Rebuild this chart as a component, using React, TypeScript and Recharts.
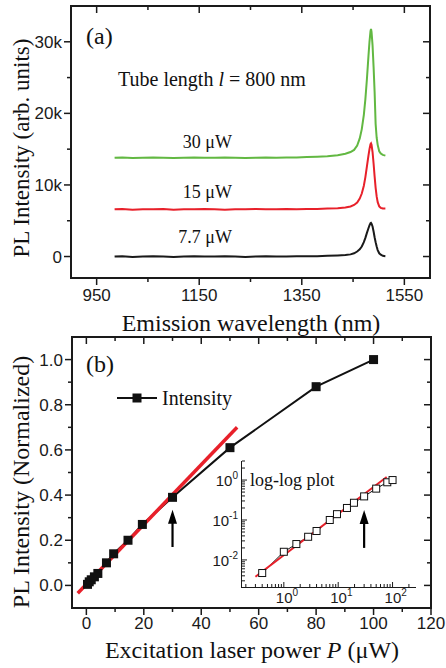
import React from 'react';
import { LineChart, Line, XAxis, YAxis, ReferenceLine } from 'recharts';

// (a) PL spectra, intensity in k (thousands of arb. units)
const wavelength = [
  985, 1000, 1020, 1040, 1060, 1080, 1100, 1120, 1140, 1160, 1180, 1200, 1220, 1240, 1260, 1280, 1300, 1320, 1340, 1360, 1380, 1400,
  1420, 1435, 1445, 1452, 1458, 1463, 1467, 1471, 1474, 1477,
  1480, 1482, 1484, 1485, 1486, 1488, 1490, 1492, 1494, 1496,
  1498, 1501, 1504, 1508, 1513,
];
const green30uW = [
  13.8, 13.85, 13.75, 13.8, 13.85, 13.8, 13.75, 13.8, 13.85, 13.8, 13.8, 13.85, 13.8, 13.75, 13.8, 13.85, 13.8, 13.85, 13.85, 13.9, 13.95, 14.0,
  14.15, 14.35, 14.6, 14.9, 15.5, 16.5, 17.8, 19.8, 22.0, 24.8,
  28.0, 30.0, 31.5, 31.8, 31.4, 29.5, 26.5, 23.0, 18.5, 16.6,
  15.6, 14.7, 14.4, 14.2, 14.1,
];
const red15uW = [
  6.6, 6.65, 6.55, 6.6, 6.6, 6.65, 6.55, 6.6, 6.6, 6.65, 6.6, 6.55, 6.6, 6.6, 6.65, 6.6, 6.6, 6.65, 6.6, 6.65, 6.65, 6.7,
  6.75, 6.85, 7.0, 7.2, 7.55, 8.1, 8.8, 9.9, 11.1, 12.6,
  14.1, 15.0, 15.7, 15.8, 15.6, 14.6, 13.0, 11.2, 9.6, 8.4,
  7.6, 7.0, 6.8, 6.7, 6.7,
];
const black7p7uW = [
  0.0, 0.05, -0.05, 0.0, 0.05, 0.0, -0.05, 0.0, 0.05, 0.0, 0.0, 0.05, 0.0, -0.05, 0.0, 0.05, 0.0, 0.0, 0.05, 0.05, 0.05, 0.1,
  0.15, 0.2, 0.3, 0.45, 0.7, 1.0, 1.4, 2.0, 2.6, 3.3,
  3.95, 4.35, 4.65, 4.7, 4.6, 4.2, 3.5, 2.7, 2.0, 1.4,
  0.9, 0.45, 0.25, 0.1, 0.05,
];

const aXTicks = [950, 1050, 1150, 1250, 1350, 1450, 1550];
const aXMajor = [950, 1150, 1350, 1550];
const aYTicks = [0, 5, 10, 15, 20, 25, 30];
const aYMajor = [0, 10, 20, 30];

// (b) normalized PL intensity vs excitation power (uW)
const power = [0.4, 1, 1.7, 2.8, 4, 7, 9.5, 14.5, 19.5, 30, 50, 80, 100];
const intensity = [0.0047, 0.016, 0.025, 0.038, 0.053, 0.1, 0.14, 0.2, 0.27, 0.39, 0.61, 0.88, 1.0];
const fitLinP = [-3, 52.5];
const fitLinI = [-0.035, 0.7];
const fitLogP = [0.3, 78];
const fitLogI = [0.0038, 1.19];
const arrowP = 30;
const arrowLinI = [0.17, 0.335];
const arrowLogI = [0.02, 0.178];

const bXTicks = [0, 10, 20, 30, 40, 50, 60, 70, 80, 90, 100, 110, 120];
const bXMajor = [0, 20, 40, 60, 80, 100, 120];
const bYTicks = [0, 0.1, 0.2, 0.3, 0.4, 0.5, 0.6, 0.7, 0.8, 0.9, 1.0];
const bYMajor = [0, 0.2, 0.4, 0.6, 0.8, 1.0];

const logXTicks = [0.2, 0.3, 0.4, 0.5, 0.6, 0.7, 0.8, 0.9, 1, 2, 3, 4, 5, 6, 7, 8, 9, 10, 20, 30, 40, 50, 60, 70, 80, 90, 100, 200];
const logXMajor = [1, 10, 100];
const logYTicks = [0.003, 0.004, 0.005, 0.006, 0.007, 0.008, 0.009, 0.01, 0.02, 0.03, 0.04, 0.05, 0.06, 0.07, 0.08, 0.09, 0.1, 0.2, 0.3, 0.4, 0.5, 0.6, 0.7, 0.8, 0.9, 1, 2, 3];
const logYMajor = [0.01, 0.1, 1];

const spectra = wavelength.map((w, i) => ({ w, g: green30uW[i], r: red15uW[i], k: black7p7uW[i] }));
const points = power.map((p, i) => ({ x: p, y: intensity[i] }));
const fitLin = fitLinP.map((p, i) => ({ x: p, y: fitLinI[i] }));
const fitLog = fitLogP.map((p, i) => ({ x: p, y: fitLogI[i] }));

// layout (page px)
const W = 446;
const A = { top: 0, h: 330, l: 71, t: 6, r: 430, b: 278 };
const B = { top: 330, h: 338, l: 72, t: 337, r: 431, b: 608 };
const I = { left: 196, top: 450, w: 236, h: 160, l: 242, t: 461, r: 416, b: 587 };

const INK = '#1a1a1a';
const SANS = "'Liberation Sans', Arial, sans-serif";
const SERIF = "'Liberation Serif', 'Times New Roman', serif";

const isIn = (arr: number[], v: number) => arr.some((m) => Math.abs(m - v) < 1e-9);

// tick mark + label drawn by hand; the mirrored inward tick on the opposite side of the box too
function bottomTick(majors: number[], gap: number, topY: number) {
  return (props: any) => {
    const { x, y, payload } = props;
    const v = payload.value as number;
    const major = isIn(majors, v);
    const len = major ? 7 : 4;
    return (
      <g>
        <line x1={x} y1={y} x2={x} y2={y + len} stroke={INK} strokeWidth={1.5} />
        <line x1={x} y1={topY} x2={x} y2={topY + len} stroke={INK} strokeWidth={1.5} />
        {major && (
          <text x={x} y={y + gap} textAnchor="middle" fontFamily={SANS} fontSize={17} fill={INK}>{String(v)}</text>
        )}
      </g>
    );
  };
}

function leftTick(majors: number[], fmt: (v: number) => string, rightX: number) {
  return (props: any) => {
    const { x, y, payload } = props;
    const v = payload.value as number;
    const major = isIn(majors, v);
    const len = major ? 7 : 4;
    return (
      <g>
        <line x1={x} y1={y} x2={x - len} y2={y} stroke={INK} strokeWidth={1.5} />
        <line x1={rightX} y1={y} x2={rightX - len} y2={y} stroke={INK} strokeWidth={1.5} />
        {major && (
          <text x={x - 9} y={y + 6} textAnchor="end" fontFamily={SANS} fontSize={17} fill={INK}>{fmt(v)}</text>
        )}
      </g>
    );
  };
}

function logTick(side: string, majors: number[]) {
  return (props: any) => {
    const { x, y, payload } = props;
    const v = payload.value as number;
    const major = isIn(majors, v);
    const len = major ? 5 : 3;
    const exp = Math.round(Math.log10(v));
    if (side === 'bottom') {
      return (
        <g>
          <line x1={x} y1={y} x2={x} y2={y - len} stroke={INK} strokeWidth={1} />
          {major && (
            <text x={x - 8} y={y + 16} fontFamily={SANS} fontSize={15} fill={INK}>
              10<tspan dy={-7} fontSize={10}>{exp}</tspan>
            </text>
          )}
        </g>
      );
    }
    return (
      <g>
        <line x1={x} y1={y} x2={x + len} y2={y} stroke={INK} strokeWidth={1} />
        {major && (
          <text x={x - 4} y={y + 6} textAnchor="end" fontFamily={SANS} fontSize={15} fill={INK}>
            10<tspan dy={-7} fontSize={10}>{exp}</tspan>
          </text>
        )}
      </g>
    );
  };
}

const arrowShape = (p: any) => {
  const { x1, y1, x2, y2 } = p;
  return (
    <g>
      <line x1={x1} y1={y1} x2={x2} y2={y2 + 10} stroke="#000" strokeWidth={2.2} />
      <polygon points={`${x2},${y2} ${x2 - 4.5},${y2 + 14} ${x2 + 4.5},${y2 + 14}`} fill="#000" />
    </g>
  );
};

const filledSquare = (p: any) => (
  <rect key={`f${p.index}`} x={p.cx - 4.5} y={p.cy - 4.5} width={9} height={9} fill="#111" />
);
const openSquare = (p: any) => (
  <rect key={`o${p.index}`} x={p.cx - 3.5} y={p.cy - 3.5} width={7} height={7} fill="#fff" stroke="#111" strokeWidth={1} />
);

const kLabel = (v: number) => (v === 0 ? '0' : `${v}k`);

const boxStyle = (l: number, t: number, r: number, b: number): React.CSSProperties => ({
  position: 'absolute',
  left: l - 1.25,
  top: t - 1.25,
  width: r - l + 2.5,
  height: b - t + 2.5,
  border: `2.5px solid ${INK}`,
  boxSizing: 'border-box',
  pointerEvents: 'none',
});

export default function App() {
  return (
    <div style={{ position: 'absolute', left: 0, top: 0, width: W, height: 668, background: '#fff' }}>
      {/* panel (a) */}
      <div style={{ position: 'absolute', left: 0, top: A.top }}>
        <LineChart width={W} height={A.h} data={spectra} margin={{ top: A.t - A.top, right: W - A.r, bottom: 0, left: 0 }}>
          <XAxis dataKey="w" type="number" domain={[900, 1600]} allowDataOverflow ticks={aXTicks} interval={0}
            height={A.h - (A.b - A.top)} tickSize={0} tickMargin={0} tickLine={false} axisLine={false}
            tick={bottomTick(aXMajor, 23, A.t - A.top)} />
          <YAxis type="number" domain={[-3, 35]} allowDataOverflow ticks={aYTicks} interval={0} width={A.l}
            tickSize={0} tickMargin={0} tickLine={false} axisLine={false} tick={leftTick(aYMajor, kLabel, A.r)} />
          <Line dataKey="g" stroke="#62b842" strokeWidth={2} dot={false} isAnimationActive={false} />
          <Line dataKey="r" stroke="#e8202a" strokeWidth={2} dot={false} isAnimationActive={false} />
          <Line dataKey="k" stroke="#1a1a1a" strokeWidth={2} dot={false} isAnimationActive={false} />
        </LineChart>
      </div>

      {/* panel (b) */}
      <div style={{ position: 'absolute', left: 0, top: B.top }}>
        <LineChart width={W} height={B.h} margin={{ top: B.t - B.top, right: W - B.r, bottom: 0, left: 0 }}>
          <XAxis dataKey="x" type="number" domain={[-5, 120]} allowDataOverflow ticks={bXTicks} interval={0}
            height={B.h - (B.b - B.top)} tickSize={0} tickMargin={0} tickLine={false} axisLine={false}
            tick={bottomTick(bXMajor, 21, B.t - B.top)} />
          <YAxis dataKey="y" type="number" domain={[-0.1, 1.1]} allowDataOverflow ticks={bYTicks} interval={0} width={B.l}
            tickSize={0} tickMargin={0} tickLine={false} axisLine={false}
            tick={leftTick(bYMajor, (v) => v.toFixed(1), B.r)} />
          <Line data={points} dataKey="y" stroke="#111" strokeWidth={2} dot={filledSquare} isAnimationActive={false} />
          <Line data={fitLin} dataKey="y" stroke="#e8202a" strokeWidth={3.5} dot={false} isAnimationActive={false} />
          <ReferenceLine segment={[{ x: arrowP, y: arrowLinI[0] }, { x: arrowP, y: arrowLinI[1] }]} shape={arrowShape} />
        </LineChart>
      </div>

      {/* inset log-log */}
      <div style={{ position: 'absolute', left: I.left, top: I.top }}>
        <LineChart width={I.w} height={I.h} margin={{ top: I.t - I.top, right: I.left + I.w - I.r, bottom: 0, left: 0 }}>
          <XAxis dataKey="x" type="number" scale="log" domain={[0.17, 270]} allowDataOverflow ticks={logXTicks} interval={0}
            height={I.top + I.h - I.b} tickSize={0} tickMargin={0} tickLine={false} axisLine={false}
            tick={logTick('bottom', logXMajor)} />
          <YAxis dataKey="y" type="number" scale="log" domain={[0.0021, 3]} allowDataOverflow ticks={logYTicks} interval={0}
            width={I.l - I.left} tickSize={0} tickMargin={0} tickLine={false} axisLine={false}
            tick={logTick('left', logYMajor)} />
          <Line data={points} dataKey="y" stroke="#111" strokeWidth={1} dot={openSquare} isAnimationActive={false} />
          <Line data={fitLog} dataKey="y" stroke="#e8202a" strokeWidth={2} dot={false} isAnimationActive={false} />
          <ReferenceLine segment={[{ x: arrowP, y: arrowLogI[0] }, { x: arrowP, y: arrowLogI[1] }]} shape={arrowShape} />
        </LineChart>
      </div>

      {/* text annotations */}
      <svg width={W} height={668} style={{ position: 'absolute', left: 0, top: 0, pointerEvents: 'none' }}>
        <g fontFamily={SERIF} fill="#111">
          <text x={86} y={44} fontSize={24}>(a)</text>
          <text x={118} y={86} fontSize={20}>
            Tube length <tspan fontStyle="italic">l</tspan> = 800 nm
          </text>
          <text x={232} y={148} fontSize={18} textAnchor="end">30 μW</text>
          <text x={232} y={198} fontSize={18} textAnchor="end">15 μW</text>
          <text x={232} y={243} fontSize={18} textAnchor="end">7.7 μW</text>
          <text x={251} y={331} fontSize={24} textAnchor="middle">Emission wavelength (nm)</text>
          <text transform="translate(29,148) rotate(-90)" fontSize={23} textAnchor="middle">PL Intensity (arb. units)</text>

          <text x={86} y={372} fontSize={24}>(b)</text>
          <line x1={117} y1={398} x2={157} y2={398} stroke="#111" strokeWidth={2} />
          <rect x={132.5} y={393.5} width={9} height={9} fill="#111" />
          <text x={162} y={405} fontSize={20}>Intensity</text>
          <text x={250} y={486} fontSize={18}>log-log plot</text>
          <text x={252} y={658} fontSize={24} textAnchor="middle">
            Excitation laser power <tspan fontStyle="italic">P</tspan> (μW)
          </text>
          <text transform="translate(29,482) rotate(-90)" fontSize={24} textAnchor="middle">PL Intensity (Normalized)</text>
        </g>
      </svg>

      {/* plot frames */}
      <div style={boxStyle(A.l, A.t, A.r, A.b)} />
      <div style={boxStyle(B.l, B.t, B.r, B.b)} />
      <div style={{ position: 'absolute', left: I.l - 0.75, top: I.t, width: I.r - I.l, height: I.b - I.t,
        borderLeft: `1.5px solid ${INK}`, borderBottom: `1.5px solid ${INK}`, pointerEvents: 'none' }} />
    </div>
  );
}
